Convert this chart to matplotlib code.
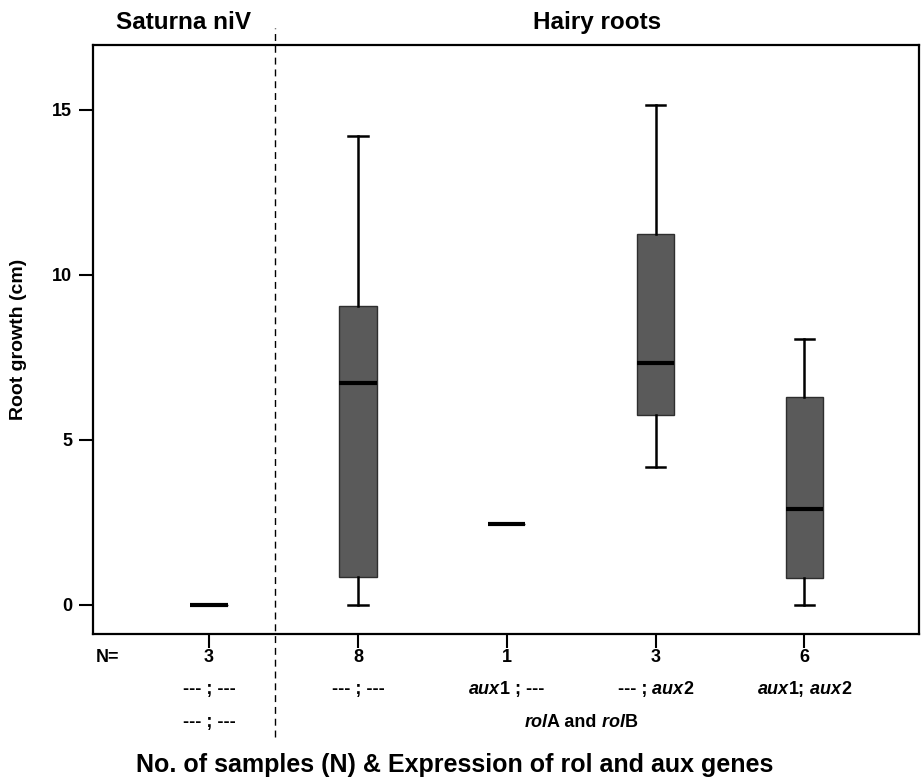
import matplotlib
matplotlib.use("Agg")
import matplotlib.pyplot as plt
import matplotlib.transforms as mtransforms
from matplotlib.lines import Line2D

plt.rcParams['font.family'] = ['Liberation Sans', 'DejaVu Sans']
plt.rcParams['font.weight'] = 'bold'

# ---- data ----
positions = [1, 2, 3, 4, 5]
n_samples = ["3", "8", "1", "3", "6"]
whislo = [0.0, 0.0, 2.46, 4.18, 0.0]
q1 = [0.0, 0.84, 2.46, 5.75, 0.80]
med = [0.0, 6.71, 2.46, 7.32, 2.91]
q3 = [0.0, 9.06, 2.46, 11.24, 6.30]
whishi = [0.0, 14.22, 2.46, 15.16, 8.06]
yticks = [0, 5, 10, 15]
group_titles = ["Saturna niV", "Hairy roots"]
ylabel = "Root growth (cm)"
xlabel = "No. of samples (N) & Expression of rol and aux genes"

W, H = 921, 777
fig = plt.figure(figsize=(W / 100, H / 100), dpi=100)
ax = fig.add_axes([93 / W, 1 - 634 / H, (919 - 93) / W, (634 - 45) / H])

stats = []
for i in range(len(positions)):
    stats.append(dict(whislo=whislo[i], q1=q1[i], med=med[i], q3=q3[i], whishi=whishi[i], fliers=[]))

ax.bxp(stats, positions=positions, widths=0.25, patch_artist=True, showfliers=False,
       boxprops=dict(facecolor='#5a5a5a', edgecolor='#2e2e2e', linewidth=1.0),
       medianprops=dict(color='black', linewidth=3.0, solid_capstyle='butt'),
       whiskerprops=dict(color='black', linewidth=1.8),
       capprops=dict(color='black', linewidth=1.8),
       capwidths=0.13)

ax.set_xlim(0.22, 5.77)
ax.set_ylim(-0.89, 16.97)
ax.set_yticks(yticks)
ax.set_yticklabels([str(v) for v in yticks], fontsize=13, fontweight='bold')
ax.set_xticks(positions)
ax.set_xticklabels([])
ax.tick_params(axis='both', direction='out', length=10, width=1.5, pad=5)
for s in ax.spines.values():
    s.set_linewidth(1.6)
ax.set_ylabel(ylabel, fontsize=14, fontweight='bold', labelpad=18)

# dashed separator
sep = 1.44
trans_xa = ax.get_xaxis_transform()
ax.add_line(Line2D([sep, sep], [-0.175, 1.029], transform=trans_xa, color='black',
                   linewidth=1.0, linestyle=(0, (5, 3.5)), clip_on=False))

# group titles
ax.text((0.22 + sep) / 2, 1.038, group_titles[0], transform=trans_xa, ha='center', va='center',
        fontsize=17.5, fontweight='bold')
ax.text((sep + 5.77) / 2, 1.038, group_titles[1], transform=trans_xa, ha='center', va='center',
        fontsize=17.5, fontweight='bold')

row1 = -0.0400
row2 = -0.0935
row3 = -0.150
fs = 13

ax.text(0.32, row1, "N=", transform=trans_xa, ha='center', va='center', fontsize=fs, fontweight='bold')
for p, n in zip(positions, n_samples):
    ax.text(p, row1, n, transform=trans_xa, ha='center', va='center', fontsize=fs, fontweight='bold')

mixed_items = []


def mixed(x, y, parts):
    texts = []
    for s, st in parts:
        t = ax.text(x, y, s, transform=trans_xa, ha='left', va='center', fontsize=fs,
                    fontweight='bold', fontstyle=st)
        texts.append(t)
    mixed_items.append((x, y, texts))


mixed(1, row2, [("--- ; ---", 'normal')])
mixed(2, row2, [("--- ; ---", 'normal')])
mixed(3, row2, [("aux", 'italic'), ("1 ; ---", 'normal')])
mixed(4, row2, [("--- ;", 'normal'), (" aux", 'italic'), ("2", 'normal')])
mixed(5, row2, [("aux", 'italic'), ("1;", 'normal'), (" aux", 'italic'), ("2", 'normal')])
mixed(1, row3, [("--- ; ---", 'normal')])
mixed(3.5, row3, [("rol", 'italic'), ("A and", 'normal'), (" rol", 'italic'), ("B", 'normal')])

fig.canvas.draw()
r = fig.canvas.get_renderer()
for x, y, texts in mixed_items:
    widths = [t.get_window_extent(r).width for t in texts]
    off = -sum(widths) / 2
    for t, w in zip(texts, widths):
        t.set_transform(trans_xa + mtransforms.ScaledTranslation(off / fig.dpi, 0, fig.dpi_scale_trans))
        off += w

fig.text(455 / W, 1 - 765 / H, xlabel, ha='center', va='center', fontsize=18, fontweight='bold')

fig.savefig("out.png", dpi=100)
